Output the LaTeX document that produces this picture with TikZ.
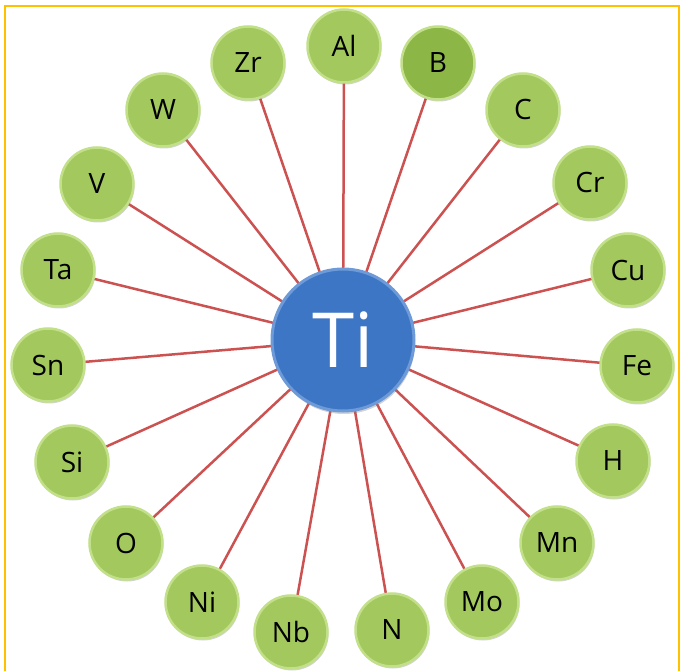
\documentclass[tikz,border=0pt]{standalone}
\usepackage{fontspec}
\setmainfont{Open Sans}
\usetikzlibrary{shadows,backgrounds}
\definecolor{LeafGreen}{HTML}{A3C95E}
\definecolor{LeafDark}{HTML}{8CB646}
\definecolor{LeafRim}{HTML}{C2DF8A}
\definecolor{TiBlue}{HTML}{3E76C6}
\definecolor{TiRim}{HTML}{6E9BD8}
\definecolor{BondRed}{HTML}{CB5250}
\definecolor{FrameGold}{HTML}{FFC000}

\begin{document}
\begin{tikzpicture}[x=1pt,y=-1pt,
    elem/.style={circle,draw=LeafRim,line width=2.5pt,fill=#1,
      minimum size=73pt,inner sep=0pt,font=\fontsize{28}{28}\selectfont,
      drop shadow={opacity=0.35,shadow xshift=1pt,shadow yshift=-2pt}},
    core/.style={circle,draw=TiRim,line width=3pt,fill=TiBlue,text=white,
      minimum size=142pt,inner sep=0pt,font=\fontsize{76}{76}\selectfont,
      drop shadow={opacity=0.35,shadow xshift=1pt,shadow yshift=-3pt}},
    bond/.style={draw=BondRed,line width=2.5pt}
  ]
  \useasboundingbox (0,0) rectangle (681,671);
  \draw[FrameGold,line width=2.2pt] (5,671) -- (5,6) -- (679,6) -- (679,671);

  % centre
  \node[core] (ti) at (343,340) {Ti};

  % ring of elements
  \foreach \name/\px/\py/\tone in {Al/344/46/LeafGreen,B/438/63/LeafDark,
      C/523/110/LeafGreen,Cr/590/183/LeafGreen,Cu/628/270/LeafGreen,
      Fe/637/366/LeafGreen,H/613/461/LeafGreen,Mn/557/543/LeafGreen,
      Mo/482/602/LeafGreen,N/392/630/LeafGreen,Nb/291/632/LeafGreen,
      Ni/202/602/LeafGreen,O/126/543/LeafGreen,Si/72/462/LeafGreen,
      Sn/48/365/LeafGreen,Ta/58/270/LeafGreen,V/97/184/LeafGreen,
      W/163/110/LeafGreen,Zr/248/63/LeafGreen}
    \node[elem=\tone] (\name) at (\px,\py) {\name};

  \begin{scope}[on background layer]
    \foreach \name in {Al,B,C,Cr,Cu,Fe,H,Mn,Mo,N,Nb,Ni,O,Si,Sn,Ta,V,W,Zr}
      \draw[bond] (ti.center) -- (\name.center);
  \end{scope}
\end{tikzpicture}
\end{document}
